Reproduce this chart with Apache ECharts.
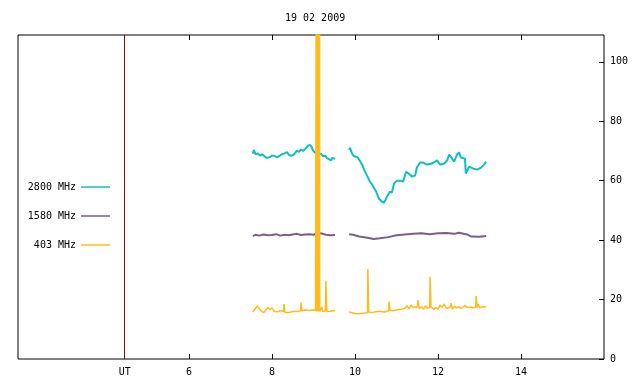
<!DOCTYPE html>
<html>
<head>
<meta charset="utf-8">
<script src="https://cdn.jsdelivr.net/npm/echarts@6/dist/echarts.min.js"></script>
<style>
  html, body { margin: 0; padding: 0; background: #fff; }
  #chart { width: 640px; height: 384px; }
</style>
</head>
<body>
<div id="chart"></div>
<script>
// time in UT hours, flux values; null = data gap
const t2800 = [7.54, 7.56, 7.61, 7.66, 7.71, 7.76, 7.83, 7.88, 7.95, 8.0, 8.07, 8.12, 8.19, 8.24, 8.29, 8.36, 8.41, 8.46, 8.53, 8.6, 8.65, 8.7, 8.75, 8.8, 8.87, 8.92, 8.96, 8.99, 9.04, 9.08, 9.13, 9.18, 9.23, 9.28, 9.33, 9.37, 9.42, 9.45, 9.52,
  9.7,
  9.86, 9.88, 9.93, 9.97, 10.0, 10.07, 10.14, 10.18, 10.22, 10.29, 10.36, 10.43, 10.51, 10.58, 10.65, 10.7, 10.73, 10.77, 10.84, 10.89, 10.94, 11.01, 11.08, 11.16, 11.23, 11.3, 11.37, 11.45, 11.49, 11.57, 11.64, 11.73, 11.83, 11.9, 11.98, 12.05, 12.14, 12.22, 12.27, 12.34, 12.39, 12.46, 12.51, 12.55, 12.6, 12.65, 12.67, 12.75, 12.84, 12.94, 13.04, 13.11, 13.16];
const v2800 = [69.1, 70.3, 68.8, 69.2, 68.4, 68.9, 68.1, 67.6, 67.9, 68.5, 68.3, 67.8, 68.4, 68.9, 69.1, 69.6, 68.7, 68.3, 68.8, 70.1, 69.7, 70.5, 70.0, 70.6, 71.8, 72.0, 71.2, 70.1, 69.4, 69.5, 68.9, 69.1, 68.2, 68.4, 67.6, 68.1, 66.8, 67.6, 67.4,
  null,
  70.3, 71.0, 69.1, 68.3, 67.8, 67.8, 66.1, 65.2, 63.7, 61.7, 59.7, 58.3, 56.3, 53.9, 52.9, 52.6, 53.4, 54.6, 56.3, 56.0, 59.0, 60.0, 60.0, 59.7, 63.0, 62.3, 61.4, 61.7, 64.4, 66.1, 66.1, 65.4, 65.7, 66.1, 66.8, 65.4, 65.7, 66.8, 68.8, 67.4, 66.4, 68.8, 69.5, 67.8, 67.6, 67.4, 62.4, 64.7, 64.1, 63.7, 64.4, 65.4, 66.4];

const t1580 = [7.54, 7.6, 7.7, 7.8, 7.9, 8.0, 8.1, 8.2, 8.3, 8.4, 8.5, 8.6, 8.7, 8.8, 8.9, 9.0, 9.1, 9.2, 9.3, 9.4, 9.52,
  9.7,
  9.86, 9.95, 10.1, 10.3, 10.45, 10.6, 10.8, 11.0, 11.2, 11.4, 11.6, 11.8, 12.0, 12.2, 12.4, 12.5, 12.7, 12.8, 13.0, 13.16];
const v1580 = [41.3, 41.8, 41.5, 41.9, 41.6, 41.7, 42.0, 41.5, 41.8, 41.6, 41.9, 42.1, 41.7, 41.9, 42.0, 41.8, 42.4, 42.2, 41.8, 41.6, 41.7,
  null,
  42.0, 41.8, 41.2, 40.8, 40.4, 40.6, 41.0, 41.6, 41.9, 42.1, 42.3, 42.0, 42.3, 42.4, 42.1, 42.5, 41.9, 41.2, 41.1, 41.4];

const t403 = [7.54, 7.6, 7.65, 7.7, 7.75, 7.8, 7.85, 7.9, 7.95, 8.0, 8.05, 8.1, 8.15, 8.2, 8.28, 8.29, 8.31, 8.4, 8.5, 8.6, 8.69, 8.7, 8.72, 8.8, 8.9, 9.0, 9.05,
  9.07, 9.075, 9.08, 9.085, 9.09, 9.095, 9.1, 9.105, 9.11, 9.115, 9.12, 9.125, 9.13, 9.135, 9.14, 9.145, 9.15, 9.155,
  9.19, 9.2, 9.22, 9.25, 9.29, 9.3, 9.32, 9.4, 9.52,
  9.7,
  9.86, 9.9, 10.0, 10.1, 10.2, 10.3, 10.31, 10.33, 10.4, 10.5, 10.6, 10.7, 10.75, 10.81, 10.82, 10.84, 10.9, 11.0, 11.1, 11.2, 11.25, 11.3, 11.35, 11.4, 11.45, 11.5, 11.52, 11.55, 11.6, 11.65, 11.7, 11.75, 11.8, 11.81, 11.83, 11.9, 11.95, 12.0, 12.05, 12.1, 12.15, 12.2, 12.3, 12.31, 12.35, 12.4, 12.45, 12.5, 12.55, 12.6, 12.65, 12.7, 12.8, 12.85, 12.91, 12.92, 12.94, 12.97, 13.0, 13.1, 13.16];
const v403 = [15.8, 17.0, 17.9, 16.8, 16.0, 15.6, 16.4, 17.3, 16.6, 17.2, 16.1, 16.0, 15.9, 16.3, 16.0, 18.5, 15.7, 15.6, 16.0, 16.0, 16.2, 19.0, 16.2, 16.5, 16.3, 16.6, 16.2,
  16.0, 200, 16.0, 200, 16.0, 200, 16.0, 200, 16.0, 200, 16.0, 200, 16.0, 200, 16.0, 200, 16.0, 16.4,
  16.4, 17.6, 16.0, 16.0, 16.2, 26.3, 16.0, 16.1, 16.3,
  null,
  15.8, 15.6, 15.3, 15.2, 15.4, 15.6, 30.3, 15.8, 15.6, 15.9, 16.1, 15.8, 16.0, 16.2, 19.3, 16.4, 16.2, 16.5, 16.7, 17.0, 17.9, 16.9, 18.2, 17.2, 17.6, 17.5, 19.8, 16.9, 17.6, 16.8, 17.9, 17.0, 17.4, 27.7, 17.6, 16.7, 17.3, 16.8, 18.2, 17.4, 18.5, 17.0, 17.5, 18.8, 16.8, 17.8, 17.2, 17.6, 17.0, 17.4, 18.1, 17.3, 17.5, 17.2, 17.4, 21.2, 17.4, 18.5, 17.3, 17.6, 17.5];

const xTickLabels = [4.45, 6, 8, 10, 12, 14];
const xTicks = [6, 8, 10, 12, 14];
const utLine = 4.45;

function pairs(ts, vs) {
  return ts.map(function (t, i) { return [t, vs[i] == null ? "-" : vs[i]]; });
}

const font = "DejaVu Sans Mono";
const chart = echarts.init(document.getElementById("chart"));

// one legend per item so that the line samples line up on the right
function oneLegend(name, top) {
  return {
    data: [name],
    right: 525,
    top: top,
    align: "right",
    icon: "rect",
    itemWidth: 29,
    itemHeight: 1.5,
    selectedMode: false,
    textStyle: { fontFamily: font, fontSize: 10, color: "#000" },
  };
}

const option = {
  animation: false,
  title: {
    text: "19 02 2009",
    left: 280,
    top: 8,
    textStyle: { fontFamily: font, fontSize: 10, fontWeight: "normal", color: "#000" },
  },
  legend: [
    oneLegend("2800 MHz", 177),
    oneLegend("1580 MHz", 206),
    oneLegend("403 MHz", 235),
  ],
  grid: {
    left: 18,
    right: 36,
    top: 35,
    bottom: 25,
    show: true,
    borderColor: "#000",
    borderWidth: 1,
  },
  xAxis: [
    {
      type: "value",
      min: 1.88,
      max: 16,
      axisLine: { show: false },
      splitLine: { show: false },
      axisTick: { inside: true, length: 5, customValues: xTicks, lineStyle: { color: "#000" } },
      axisLabel: {
        customValues: xTickLabels,
        fontFamily: font,
        fontSize: 10,
        color: "#000",
        margin: 8,
        formatter: function (v) { return v === utLine ? "UT" : String(v); },
      },
    },
    {
      type: "value",
      position: "top",
      min: 1.88,
      max: 16,
      axisLine: { show: false },
      splitLine: { show: false },
      axisTick: { inside: true, length: 5, customValues: xTicks, lineStyle: { color: "#000" } },
      axisLabel: { show: false },
    },
  ],
  yAxis: {
    type: "value",
    position: "right",
    min: 0,
    max: 109,
    interval: 20,
    axisLine: { show: false },
    splitLine: { show: false },
    axisTick: { inside: true, length: 5, lineStyle: { color: "#000" } },
    axisLabel: {
      fontFamily: font,
      fontSize: 10,
      color: "#000",
      margin: 6,
      showMaxLabel: false,
      formatter: function (v) { return v > 100 ? "" : v; },
    },
  },
  series: [
    {
      name: "2800 MHz",
      type: "line",
      data: pairs(t2800, v2800),
      showSymbol: false,
      color: "#12bfbf",
      lineStyle: { width: 2 },
      connectNulls: false,
      markLine: {
        silent: true,
        symbol: "none",
        label: { show: false },
        lineStyle: { color: "#a00000", width: 1, type: "solid" },
        data: [{ xAxis: utLine }],
      },
    },
    {
      name: "1580 MHz",
      type: "line",
      data: pairs(t1580, v1580),
      showSymbol: false,
      color: "#7b5f84",
      lineStyle: { width: 2 },
    },
    {
      name: "403 MHz",
      type: "line",
      data: pairs(t403, v403),
      showSymbol: false,
      color: "#ffbb1c",
      lineStyle: { width: 1.5 },
      clip: true,
    },
  ],
};

chart.setOption(option);
window.addEventListener("resize", function () {
  chart.resize();
});
</script>
</body>
</html>
